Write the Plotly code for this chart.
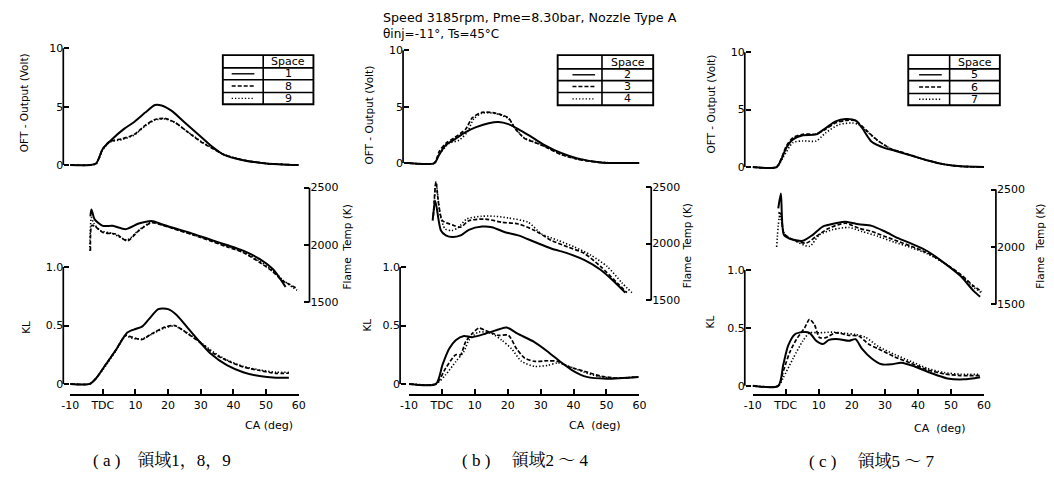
import plotly.graph_objects as go

W, H = 1054, 481
OFF = 8  # page body margin of the browser: the figure is drawn 8px right and down

# ---------------- data (CA in deg, OFT in Volt, Temp in K, KL) ----------------
x_tickvals = [-10, 0, 10, 20, 30, 40, 50, 60]
x_ticktext = ["-10", "TDC", "10", "20", "30", "40", "50", "60"]

# Panel (a): spaces 1, 8, 9
a_oft1_ca = [-10, -4, -2, 0, 3, 6.5, 9.5, 13, 16, 18, 21, 25, 29, 33, 37, 43, 50, 60]
a_oft1 = [0, 0, 0.15, 1.4, 2.26, 3.1, 3.67, 4.5, 5.14, 5.1, 4.66, 3.67, 2.68, 1.7, 0.9, 0.42, 0.14, 0.0]
a_oft8_ca = [-10, -4, -2, 0, 2, 6, 9.5, 13, 16, 19, 22, 26, 30, 34, 37, 43, 50, 60]
a_oft8 = [0, 0, 0.15, 1.4, 2.0, 2.26, 2.6, 3.4, 3.9, 4.0, 3.67, 2.83, 2.0, 1.36, 0.9, 0.42, 0.14, 0]
a_oft9_ca = [-10, -4, -2, 0, 2, 6, 9.5, 13, 16, 19, 22, 26, 30, 34, 37, 43, 50, 60]
a_oft9 = [0, 0, 0.12, 1.3, 1.95, 2.2, 2.55, 3.35, 3.85, 3.95, 3.65, 2.85, 2.05, 1.4, 0.92, 0.43, 0.14, 0]

a_t1_ca = [-3.8, -3.5, -2.5, 0, 3, 7, 11, 15, 18, 23, 28, 33, 38, 43, 48, 52, 54, 56]
a_t1 = [2250, 2310, 2224, 2167, 2167, 2138, 2187, 2210, 2181, 2138, 2095, 2046, 2000, 1951, 1879, 1793, 1721, 1635]
a_t8_ca = [-3.8, -3.4, -2.5, 0, 4, 7.5, 11, 15, 18, 23, 28, 33, 38, 43, 48, 52, 55, 57, 59.5]
a_t8 = [1950, 2170, 2165, 2110, 2095, 2037, 2124, 2195, 2175, 2130, 2085, 2035, 1985, 1935, 1850, 1770, 1690, 1660, 1621]
a_t9_ca = [-4, -3.5, -2.8, -1, 3, 7.5, 11, 15, 18, 23, 28, 33, 38, 43, 48, 52, 55, 57, 59.5]
a_t9 = [1950, 2240, 2190, 2130, 2100, 2045, 2130, 2200, 2178, 2132, 2088, 2040, 1990, 1940, 1860, 1780, 1700, 1655, 1606]

a_kl1_ca = [-10, -4, -2, 1, 4, 7.5, 10, 12, 14, 17, 20, 22.6, 26, 30, 33, 38, 43, 48, 53, 57]
a_kl1 = [0, 0, 0.05, 0.17, 0.29, 0.44, 0.47, 0.49, 0.55, 0.64, 0.64, 0.59, 0.48, 0.35, 0.26, 0.16, 0.10, 0.067, 0.053, 0.053]
a_kl8_ca = [-10, -4, -2, 1, 4, 7, 9, 12, 15, 19, 22, 26, 30, 34, 38, 43, 48, 53, 57]
a_kl8 = [0, 0, 0.05, 0.17, 0.29, 0.416, 0.40, 0.38, 0.43, 0.486, 0.5, 0.43, 0.35, 0.26, 0.2, 0.145, 0.115, 0.09, 0.092]
a_kl9_ca = [-10, -4, -2, 1, 4, 7, 9, 12, 15, 19, 22, 26, 30, 34, 38, 43, 48, 53, 57]
a_kl9 = [0, 0, 0.05, 0.16, 0.285, 0.41, 0.39, 0.385, 0.425, 0.48, 0.495, 0.435, 0.355, 0.27, 0.205, 0.15, 0.12, 0.1, 0.1]

# Panel (b): spaces 2, 3, 4
b_oft2_ca = [-10, -2.3, -0.8, 1.2, 4.2, 7.2, 10.2, 14.2, 17.2, 20.2, 23.2, 27.2, 31.2, 36.2, 41.2, 48.2, 60]
b_oft2 = [0, 0, 0.76, 1.6, 2.17, 2.74, 3.16, 3.53, 3.64, 3.45, 3.02, 2.32, 1.6, 0.9, 0.42, 0.06, 0]
b_oft3_ca = [-10, -2.3, -0.8, 1.2, 3.7, 7.2, 9.2, 12.2, 16.2, 20.2, 22.2, 25.2, 28.2, 31.2, 36.2, 41.2, 48.2, 60]
b_oft3 = [0, 0, 1.04, 1.75, 2.23, 3.0, 4.0, 4.5, 4.43, 4.0, 3.08, 2.17, 1.84, 1.47, 0.76, 0.34, 0.06, 0]
b_oft4_ca = [-10, -2.3, -0.8, 2.2, 5.2, 7.7, 9.7, 12.2, 16.2, 20.2, 22.2, 25.2, 28.2, 31.2, 36.2, 41.2, 48.2, 60]
b_oft4 = [0, 0, 0.76, 1.75, 2.03, 2.74, 3.93, 4.43, 4.4, 3.95, 3.1, 2.2, 1.86, 1.5, 0.8, 0.36, 0.07, 0]

b_t2_ca = [-2.8, -2.0, -0.3, 1.2, 3.2, 5.7, 8.2, 12.2, 15.2, 19.2, 23.2, 28.2, 33.2, 38.2, 43.2, 48.2, 52.2, 55.7]
b_t2 = [2201, 2374, 2115, 2072, 2057, 2072, 2121, 2149, 2144, 2100, 2072, 2014, 1957, 1914, 1856, 1770, 1669, 1569]
b_t3_ca = [-2.6, -1.8, -1.0, 0.2, 3.2, 5.7, 8.2, 13.2, 18.2, 23.2, 28.2, 33.2, 38.2, 43.2, 48.2, 53.2, 56.2]
b_t3 = [2240, 2540, 2350, 2201, 2164, 2144, 2201, 2215, 2187, 2172, 2115, 2029, 1971, 1914, 1799, 1655, 1569]
b_t4_ca = [-2.4, -1.8, -0.5, 1, 3, 5, 7.5, 12, 16, 20.2, 26.2, 30.2, 35.2, 40.2, 45.2, 50.2, 54.7, 57.7]
b_t4 = [2300, 2540, 2250, 2129, 2115, 2140, 2215, 2240, 2240, 2225, 2187, 2086, 2029, 1971, 1899, 1799, 1655, 1569]

b_kl2_ca = [-10, -1.8, 0.2, 2.2, 4.2, 6.7, 9.2, 13.2, 17.2, 19.7, 23, 28, 32, 36, 40, 44, 50, 59.7]
b_kl2 = [0, 0, 0.165, 0.30, 0.374, 0.41, 0.40, 0.43, 0.466, 0.483, 0.43, 0.36, 0.28, 0.19, 0.11, 0.06, 0.045, 0.06]
b_kl3_ca = [-10, -1.8, 1.2, 4.2, 5.7, 7.2, 9.2, 11.2, 13.2, 17.2, 20.2, 22.7, 25.2, 28.2, 32.2, 35.2, 38.2, 43.2, 48.2, 53.2, 59.7]
b_kl3 = [0, 0, 0.137, 0.25, 0.25, 0.36, 0.43, 0.478, 0.458, 0.416, 0.416, 0.30, 0.22, 0.193, 0.198, 0.193, 0.15, 0.109, 0.067, 0.05, 0.06]
b_kl4_ca = [-10, -1.8, 1.2, 4.2, 6.7, 8.2, 11.2, 15.2, 18.2, 21.2, 24.2, 28.2, 32.2, 35.2, 38.2, 43.2, 48.2, 53.2, 59.7]
b_kl4 = [0, 0, 0.08, 0.19, 0.277, 0.374, 0.444, 0.43, 0.374, 0.30, 0.193, 0.15, 0.159, 0.179, 0.155, 0.1, 0.06, 0.05, 0.06]

# Panel (c): spaces 5, 6, 7
c_oft5_ca = [-10, -2.75, -1.26, 0.23, 2.21, 5.2, 9.2, 12.1, 15.1, 18.1, 21.1, 23.1, 26, 30, 33, 38, 43, 48, 53, 60]
c_oft5 = [0, 0, 0.71, 1.7, 2.41, 2.76, 2.84, 3.4, 3.98, 4.18, 4.06, 3.4, 2.2, 1.65, 1.42, 1.0, 0.57, 0.23, 0.06, 0]
c_oft6_ca = [-10, -2.75, -1.26, 0.23, 2.21, 5.2, 9.2, 12.1, 15.1, 18.1, 21.1, 24.1, 28, 32, 35, 38, 43, 48, 53, 60]
c_oft6 = [0, 0, 0.8, 1.85, 2.56, 2.85, 2.88, 3.3, 3.85, 4.05, 4.05, 3.27, 2.27, 1.56, 1.3, 1.0, 0.57, 0.23, 0.06, 0]
c_oft7_ca = [-10, -2.75, -0.76, 2.21, 5.2, 9.2, 12.1, 16.1, 20.1, 22.1, 24.1, 28, 32, 35, 38, 43, 48, 53, 60]
c_oft7 = [0, 0, 0.85, 2.13, 2.27, 2.27, 2.98, 3.69, 3.84, 3.7, 3.2, 2.27, 1.56, 1.3, 1.0, 0.57, 0.23, 0.06, 0]

c_t5_ca = [-2.25, -1.46, -0.57, 1.22, 5.2, 8.2, 11.2, 15.1, 18.1, 22.1, 26, 30, 34, 38, 42.9, 47.9, 52.9, 56.8, 58.8]
c_t5 = [2336, 2465, 2106, 2072, 2054, 2106, 2178, 2207, 2221, 2198, 2184, 2135, 2077, 2029, 1963, 1862, 1747, 1618, 1567]
c_t6_ca = [-2.25, -1.5, -0.57, 2.2, 6.2, 9.2, 13.1, 18.1, 22.1, 26, 30, 34, 38, 42.9, 47.9, 52.9, 56.8, 59.3]
c_t6 = [2300, 2290, 2120, 2063, 2034, 2092, 2164, 2207, 2164, 2135, 2092, 2049, 2006, 1948, 1862, 1762, 1661, 1612]
c_t7_ca = [-2.75, -1.76, -0.27, 2.2, 7.2, 10.2, 14.1, 19.1, 23.1, 28, 33, 38, 42.9, 47.9, 52.9, 56.8, 59.3]
c_t7 = [2000, 2278, 2106, 2063, 2006, 2106, 2150, 2170, 2135, 2092, 2040, 1994, 1940, 1860, 1755, 1650, 1600]

c_kl5_ca = [-10, -2.25, -0.76, 0.73, 2.71, 5.2, 7.2, 9.2, 11.2, 13.1, 16.1, 19.1, 21.1, 23.1, 26, 29, 32, 35, 39, 43.9, 48.9, 53.9, 58.8]
c_kl5 = [0, 0, 0.18, 0.347, 0.444, 0.464, 0.458, 0.389, 0.361, 0.397, 0.403, 0.389, 0.403, 0.319, 0.236, 0.186, 0.186, 0.2, 0.167, 0.111, 0.064, 0.056, 0.075]
c_kl6_ca = [-10, -2.25, -0.76, 1.22, 3.2, 5.7, 7.2, 8.7, 10.2, 12.1, 15.1, 19.1, 22.1, 25.1, 28, 33, 38, 42.9, 47.9, 52.9, 58.8]
c_kl6 = [0, 0, 0.125, 0.29, 0.40, 0.5, 0.575, 0.528, 0.417, 0.417, 0.458, 0.436, 0.43, 0.36, 0.32, 0.25, 0.194, 0.139, 0.103, 0.089, 0.089]
c_kl7_ca = [-10, -2.25, -0.76, 2.21, 5.2, 7.2, 10.2, 14.1, 18.1, 21.1, 24.1, 28, 33, 38, 42.9, 47.9, 52.9, 58.8]
c_kl7 = [0, 0, 0.07, 0.236, 0.389, 0.458, 0.458, 0.464, 0.453, 0.444, 0.42, 0.34, 0.27, 0.21, 0.15, 0.115, 0.1, 0.1]

space_labels = [["1", "8", "9"], ["2", "3", "4"], ["5", "6", "7"]]
captions = ["( a )\u3000領域1，8，9", "( b )\u3000 領域2 ～ 4", "( c )\u3000 領域5 ～ 7"]
title_line1 = "Speed 3185rpm, Pme=8.30bar, Nozzle Type A"
title_line2 = "θinj=-11°, Ts=45°C"

panels = [
    dict(oft=[(a_oft1_ca, a_oft1), (a_oft8_ca, a_oft8), (a_oft9_ca, a_oft9)],
         temp=[(a_t1_ca, a_t1), (a_t8_ca, a_t8), (a_t9_ca, a_t9)],
         kl=[(a_kl1_ca, a_kl1), (a_kl8_ca, a_kl8), (a_kl9_ca, a_kl9)]),
    dict(oft=[(b_oft2_ca, b_oft2), (b_oft3_ca, b_oft3), (b_oft4_ca, b_oft4)],
         temp=[(b_t2_ca, b_t2), (b_t3_ca, b_t3), (b_t4_ca, b_t4)],
         kl=[(b_kl2_ca, b_kl2), (b_kl3_ca, b_kl3), (b_kl4_ca, b_kl4)]),
    dict(oft=[(c_oft5_ca, c_oft5), (c_oft6_ca, c_oft6), (c_oft7_ca, c_oft7)],
         temp=[(c_t5_ca, c_t5), (c_t6_ca, c_t6), (c_t7_ca, c_t7)],
         kl=[(c_kl5_ca, c_kl5), (c_kl6_ca, c_kl6), (c_kl7_ca, c_kl7)]),
]

# ---------------- layout geometry (screen pixels) ----------------
geo = [
    dict(x0=62, x1=294, oft_x=55, oft0=165, oft10=46, t_x=305, t1500=305, t2500=188,
         kl_x=55, kl0=388, kl1=269, xline=399,
         tab=(217, 258, 309, [53, 66, 78, 91, 103]), samp=(226, 249),
         ytitle_oft=(15, 101), ytitle_t=(343, 248), ytitle_kl=(17, 330),
         catitle=(264, 430), cap=(84, 466), catext="CA (deg)"),
    dict(x0=406, x1=640, oft_x=400, oft0=163, oft10=48, t_x=652, t1500=303, t2500=187,
         kl_x=397, kl0=388, kl1=269, xline=399,
         tab=(557, 602, 654, [53, 67, 79, 91, 104]), samp=(572, 595),
         ytitle_oft=(365, 114), ytitle_t=(688, 247), ytitle_kl=(363, 328),
         catitle=(595, 430), cap=(459, 466), catext="CA  (deg)"),
    dict(x0=755, x1=990, oft_x=747, oft0=167, oft10=50, t_x=1002, t1500=307, t2500=190,
         kl_x=747, kl0=390, kl1=272, xline=399,
         tab=(913, 955, 1006, [53, 67, 79, 92, 104]), samp=(924, 947),
         ytitle_oft=(713, 103), ytitle_t=(1046, 248), ytitle_kl=(712, 325),
         catitle=(945, 433), cap=(811, 467), catext="CA  (deg)"),
]

FONT = "DejaVu Sans, sans-serif"
CAPFONT = "Liberation Serif, Noto Serif CJK JP, Noto Sans CJK JP, serif"
styles = [dict(dash="solid", width=2.0), dict(dash="4px,2px", width=1.7), dict(dash="1.3px,2px", width=1.6)]


def px_x(x):
    return (x - OFF) / W


def px_y(y):
    return 1 - (y - OFF) / H


def ydom(p_lo, p_hi, v_lo, v_hi, r_lo, r_hi):
    s = (p_lo - p_hi) / (v_hi - v_lo)
    bot = p_lo + (v_lo - r_lo) * s
    top = p_hi - (r_hi - v_hi) * s
    return [px_y(bot), px_y(top)]


def note(x, y, text, size, family=FONT, angle=0, xanchor="center"):
    return dict(x=px_x(x), y=px_y(y), xref="paper", yref="paper", text=text, showarrow=False,
                xanchor=xanchor, yanchor="middle", textangle=angle, borderpad=0,
                font=dict(size=size, family=family, color="black"))


fig = go.Figure()
layout = dict(width=W, height=H, margin=dict(l=0, r=0, t=0, b=0),
              paper_bgcolor="white", plot_bgcolor="rgba(0,0,0,0)", showlegend=False,
              font=dict(family=FONT, size=11, color="black"))
shapes, annotations = [], []

for i, (p, g) in enumerate(zip(panels, geo)):
    xn = "" if i == 0 else str(i + 1)
    yo, yt, yk = 3 * i + 1, 3 * i + 2, 3 * i + 3
    ids = ["" if n == 1 else str(n) for n in (yo, yt, yk)]

    layout["xaxis" + xn] = dict(domain=[px_x(g["x0"]), px_x(g["x1"])], range=[-10, 60],
                                anchor="free", position=px_y(g["xline"]), showline=True,
                                linewidth=1.6, linecolor="black", ticks="inside", ticklen=5,
                                tickwidth=1.6, tickcolor="black", tickvals=x_tickvals,
                                ticktext=x_ticktext, showgrid=False, zeroline=False,
                                tickfont=dict(size=11, family=FONT))
    common = dict(anchor="free", showline=False, ticks="inside", ticklen=5, tickwidth=1.6,
                  tickcolor="black", showgrid=False, zeroline=False,
                  tickfont=dict(size=11, family=FONT))
    r_oft = [-0.4, 10.3]
    layout["yaxis" + ids[0]] = dict(common, domain=ydom(g["oft0"], g["oft10"], 0, 10, *r_oft),
                                    range=r_oft, position=px_x(g["oft_x"]), side="left",
                                    tickvals=[0, 5, 10])
    r_t = [1490, 2620]
    layout["yaxis" + ids[1]] = dict(common, domain=ydom(g["t1500"], g["t2500"], 1500, 2500, *r_t),
                                    range=r_t, position=px_x(g["t_x"]), side="right",
                                    tickvals=[1500, 2000, 2500])
    r_k = [-0.04, 1.03]
    layout["yaxis" + ids[2]] = dict(common, domain=ydom(g["kl0"], g["kl1"], 0, 1, *r_k),
                                    range=r_k, position=px_x(g["kl_x"]), side="left",
                                    tickvals=[0, 0.5, 1.0], ticktext=["0", "0.5", "1.0"])

    # axis spines drawn only over the labelled span
    for yid, xpos, lo, hi in ((ids[0], g["oft_x"], 0, 10), (ids[1], g["t_x"], 1500, 2500),
                              (ids[2], g["kl_x"], 0, 1)):
        shapes.append(dict(type="line", xref="paper", yref="y" + yid, x0=px_x(xpos),
                           x1=px_x(xpos), y0=lo, y1=hi, line=dict(color="black", width=1.7)))

    for key, yid in (("oft", ids[0]), ("temp", ids[1]), ("kl", ids[2])):
        for (ca, vals), st in zip(p[key], styles):
            fig.add_trace(go.Scatter(x=ca, y=vals, xaxis="x" + xn, yaxis="y" + yid,
                                     mode="lines", hoverinfo="skip",
                                     line=dict(color="black", width=st["width"], dash=st["dash"],
                                               shape="spline", smoothing=0.7)))

    # legend table
    tx0, tx1, tx2, rows = g["tab"]
    shapes.append(dict(type="rect", xref="paper", yref="paper", x0=px_x(tx0), x1=px_x(tx2),
                       y0=px_y(rows[-1]), y1=px_y(rows[0]), line=dict(color="black", width=1.9)))
    shapes.append(dict(type="line", xref="paper", yref="paper", x0=px_x(tx1), x1=px_x(tx1),
                       y0=px_y(rows[-1]), y1=px_y(rows[0]), line=dict(color="black", width=1.6)))
    for ry in rows[1:-1]:
        shapes.append(dict(type="line", xref="paper", yref="paper", x0=px_x(tx0), x1=px_x(tx2),
                           y0=px_y(ry), y1=px_y(ry), line=dict(color="black", width=1.6)))
    annotations.append(note((tx1 + tx2) / 2, (rows[0] + rows[1]) / 2, "Space", 11))
    s0, s1 = g["samp"]
    for k in range(3):
        cy = (rows[k + 1] + rows[k + 2]) / 2
        shapes.append(dict(type="line", xref="paper", yref="paper", x0=px_x(s0), x1=px_x(s1),
                           y0=px_y(cy), y1=px_y(cy),
                           line=dict(color="black", width=1.4, dash=styles[k]["dash"])))
        annotations.append(note((tx1 + tx2) / 2, cy, space_labels[i][k], 11))

    # axis titles and caption
    annotations.append(note(*g["ytitle_oft"], "OFT - Output (Volt)", 10.5, angle=-90))
    annotations.append(note(*g["ytitle_t"], "Flame  Temp (K)", 10.5, angle=-90))
    annotations.append(note(*g["ytitle_kl"], "KL", 10.5, angle=-90))
    annotations.append(note(*g["catitle"], g["catext"], 11))
    annotations.append(note(*g["cap"], captions[i], 17, family=CAPFONT, xanchor="left"))

annotations.append(note(379, 15, title_line1, 12.7, xanchor="left"))
annotations.append(note(379, 31, title_line2, 12, xanchor="left"))

layout["shapes"] = shapes
layout["annotations"] = annotations
fig.update_layout(**layout)
fig.write_html("out.html")
